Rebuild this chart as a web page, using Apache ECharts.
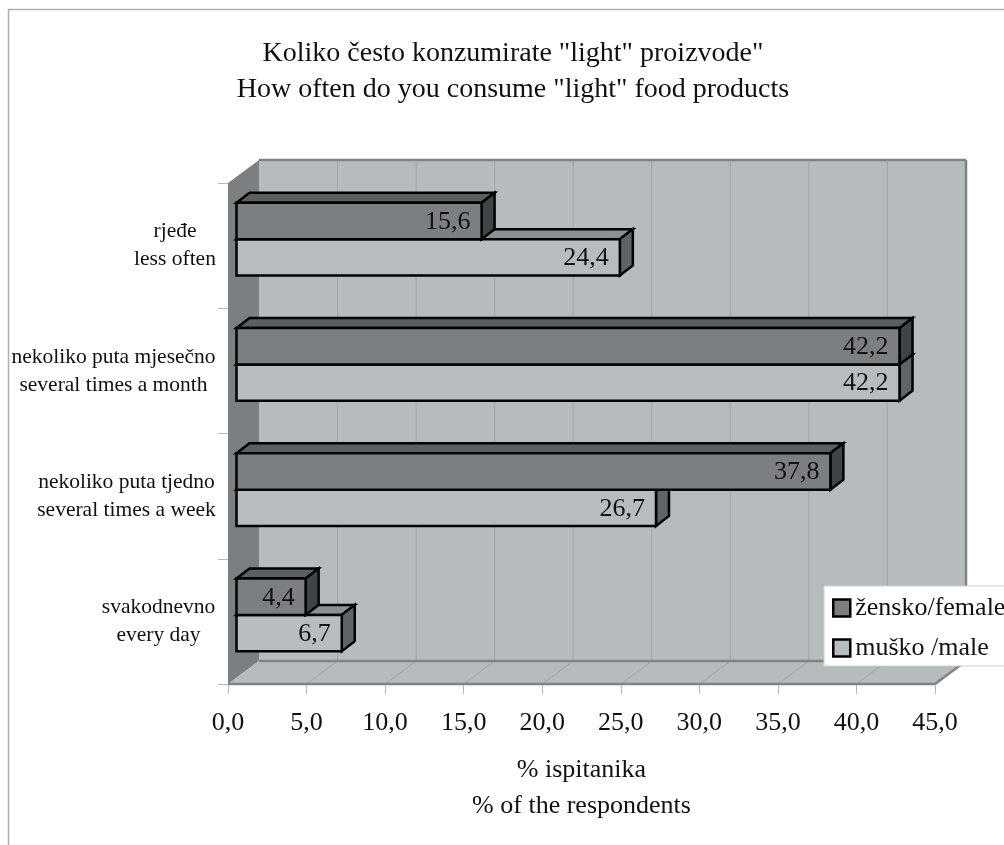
<!DOCTYPE html>
<html>
<head>
<meta charset="utf-8">
<style>
  html, body { margin: 0; padding: 0; background: #fff; }
  #main { width: 1004px; height: 845px; }
</style>
<script src="https://cdn.jsdelivr.net/npm/echarts@6/dist/echarts.min.js"></script>
</head>
<body>
<div id="main"></div>
<script>
// categories go bottom to top, same as the axis
const categories = [
  'svakodnevno\nevery day',
  'nekoliko puta tjedno\nseveral times a week',
  'nekoliko puta mjesečno\nseveral times a month',
  'rjeđe\nless often'
];
const labelWidths = [113, 177, 203, 80]; // width of the centred label block
const femaleValues = [4.4, 37.8, 42.2, 15.6];
const maleValues = [6.7, 26.7, 42.2, 24.4];
const xTicks = [0, 5, 10, 15, 20, 25, 30, 35, 40, 45];
const femaleName = 'žensko/female';
const maleName = 'muško /male';

const serif = '"Liberation Serif", "Times New Roman", serif';
const textColor = '#111';

// 3D look: depth of the room and of the bars, in px
const wallDX = 31, wallDY = -23;
const barShiftX = 8.5, barShiftY = -6.5;
const barDX = 13, barDY = -10;
const barBand = 0.29; // bar height as part of the category band

const wallFill = '#b6bcbe';
const sideFill = '#7b7f82';
const wallEdge = '#808486';
const wallGrid = '#a0a5a7';

function renderRoom(params, api) {
  const r = params.coordSys;
  const x0 = r.x, x1 = r.x + r.width, y0 = r.y, y1 = r.y + r.height;
  const poly = (pts, fill) => ({
    type: 'polygon',
    shape: { points: pts },
    style: { fill: fill, stroke: null }
  });
  const line = (a, b, color, w) => ({
    type: 'line',
    shape: { x1: a[0], y1: a[1], x2: b[0], y2: b[1] },
    style: { stroke: color, lineWidth: w, fill: null }
  });
  const children = [
    poly([[x0 + wallDX, y0 + wallDY], [x1 + wallDX, y0 + wallDY], [x1 + wallDX, y1 + wallDY], [x0 + wallDX, y1 + wallDY]], wallFill),
    poly([[x0, y0], [x0 + wallDX, y0 + wallDY], [x0 + wallDX, y1 + wallDY], [x0, y1]], sideFill),
    poly([[x0, y1], [x1, y1], [x1 + wallDX, y1 + wallDY], [x0 + wallDX, y1 + wallDY]], wallFill)
  ];
  xTicks.forEach(t => {
    const x = api.coord([t, 0])[0];
    if (t > 0 && t < 45) {
      children.push(line([x + wallDX, y0 + wallDY], [x + wallDX, y1 + wallDY], wallGrid, 1));
    }
    if (t > 0) {
      children.push(line([x, y1], [x + wallDX, y1 + wallDY], wallGrid, 1));
    }
  });
  children.push(line([x0 + wallDX, y0 + wallDY], [x1 + wallDX, y0 + wallDY], wallEdge, 2.5));
  children.push(line([x1 + wallDX, y0 + wallDY], [x1 + wallDX, y1 + wallDY], wallEdge, 2.5));
  children.push(line([x0 + wallDX, y1 + wallDY], [x1 + wallDX, y1 + wallDY], wallEdge, 2.5));
  children.push(line([x0, y1], [x1, y1], wallEdge, 2.5));
  children.push(line([x1, y1], [x1 + wallDX, y1 + wallDY], wallEdge, 2.5));
  return { type: 'group', children: children };
}

// one 3D bar: side 0 sits above the band centre, side 1 below it
function barRenderer(side, frontFill, topFill, sideFillColor) {
  return function (params, api) {
    const val = api.value(0);
    const cat = api.value(1);
    const start = api.coord([0, cat]);
    const end = api.coord([val, cat]);
    const h = api.size([0, 1])[1] * barBand;
    const xa = start[0] + barShiftX;
    const xb = end[0] + barShiftX;
    const ya = start[1] + barShiftY + (side === 0 ? -h : 0);
    const yb = ya + h;
    const edge = { stroke: '#000', lineWidth: 2.5, lineJoin: 'miter' };
    return {
      type: 'group',
      children: [
        {
          type: 'polygon',
          shape: { points: [[xa, ya], [xa + barDX, ya + barDY], [xb + barDX, ya + barDY], [xb, ya]] },
          style: Object.assign({ fill: topFill }, edge)
        },
        {
          type: 'polygon',
          shape: { points: [[xb, ya], [xb + barDX, ya + barDY], [xb + barDX, yb + barDY], [xb, yb]] },
          style: Object.assign({ fill: sideFillColor }, edge)
        },
        {
          type: 'rect',
          shape: { x: xa, y: ya, width: xb - xa, height: h },
          style: Object.assign({ fill: frontFill }, edge)
        },
        {
          type: 'text',
          x: xb - 11,
          y: ya + h / 2 + 1,
          style: {
            text: val.toFixed(1).replace('.', ','),
            font: '26px ' + serif,
            fill: textColor,
            textAlign: 'right',
            textVerticalAlign: 'middle'
          }
        }
      ]
    };
  };
}

const chart = echarts.init(document.getElementById('main'), null, { renderer: 'canvas' });

const rich = {};
labelWidths.forEach((w, i) => {
  rich['c' + i] = { width: w, align: 'center', fontFamily: serif, fontSize: 21.5, color: textColor, lineHeight: 28 };
});

chart.setOption({
  animation: false,
  backgroundColor: '#fff',
  title: {
    text: 'Koliko često konzumirate "light" proizvode"\nHow often do you consume "light" food products',
    left: 508,
    top: 31,
    textAlign: 'center',
    textStyle: { fontFamily: serif, fontSize: 28, fontWeight: 'normal', color: textColor, lineHeight: 36 }
  },
  grid: { left: 228, right: 69, top: 183, bottom: 161 },
  legend: {
    data: [femaleName, maleName],
    orient: 'vertical',
    left: 824,
    top: 586,
    padding: [9, 14, 5, 8],
    itemWidth: 17,
    itemHeight: 17,
    itemGap: 14,
    backgroundColor: '#fff',
    borderColor: '#d0d0d0',
    borderWidth: 1,
    borderRadius: 0,
    icon: 'rect',
    textStyle: { fontFamily: serif, fontSize: 26, color: textColor, padding: [0, 0, 0, 0] },
    itemStyle: { borderColor: '#000', borderWidth: 2.5 }
  },
  xAxis: {
    type: 'value',
    min: 0,
    max: 45,
    interval: 5,
    name: '% ispitanika\n% of the respondents',
    nameLocation: 'middle',
    nameGap: 68,
    nameTextStyle: { fontFamily: serif, fontSize: 26, color: textColor, lineHeight: 36 },
    axisLine: { show: false },
    axisTick: { show: true, length: 10, lineStyle: { color: '#b8b8b8' } },
    axisLabel: {
      margin: 26,
      fontFamily: serif,
      fontSize: 26,
      color: textColor,
      formatter: v => v.toFixed(1).replace('.', ',')
    },
    splitLine: { show: false }
  },
  yAxis: {
    type: 'category',
    data: categories,
    axisLine: { show: false },
    axisTick: { show: true, length: 10, lineStyle: { color: '#b8b8b8' } },
    axisLabel: {
      margin: 13,
      align: 'right',
      formatter: (v, i) => v.split('\n').map(l => '{c' + i + '|' + l + '}').join('\n'),
      rich: rich
    },
    splitLine: { show: false }
  },
  series: [
    {
      type: 'custom',
      name: 'room',
      silent: true,
      z: 1,
      renderItem: renderRoom,
      coordinateSystem: 'cartesian2d',
      encode: { x: 0, y: 1 },
      data: [[0, 0]]
    },
    {
      type: 'custom',
      name: maleName,
      z: 3,
      itemStyle: { color: wallFill },
      renderItem: barRenderer(1, '#b7bdbf', '#8b9092', '#5f6466'),
      encode: { x: 0, y: 1 },
      data: maleValues.map((v, i) => [v, i])
    },
    {
      type: 'custom',
      name: femaleName,
      z: 4,
      itemStyle: { color: sideFill },
      renderItem: barRenderer(0, '#7b7f82', '#5a5f61', '#3f4446'),
      encode: { x: 0, y: 1 },
      data: femaleValues.map((v, i) => [v, i])
    }
  ],
  graphic: [{
    type: 'polyline',
    silent: true,
    z: -1,
    shape: { points: [[8.5, 845], [8.5, 9.5], [1004, 9.5]] },
    style: { fill: null, stroke: '#b0b0b0', lineWidth: 1.5 }
  }]
});
</script>
</body>
</html>
